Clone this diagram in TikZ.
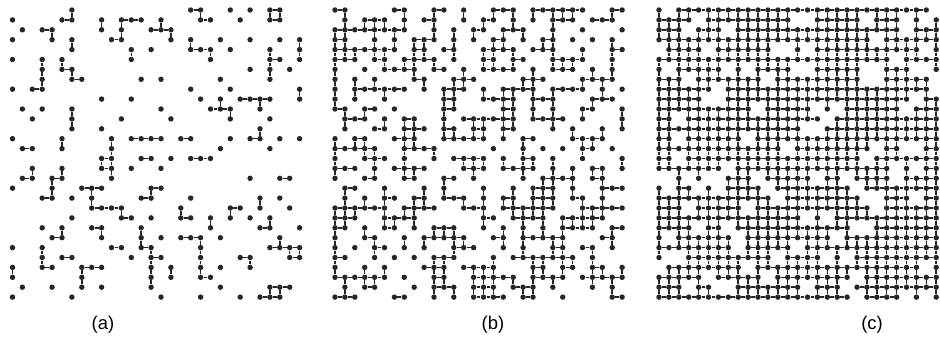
\documentclass[tikz,border=0pt]{standalone}
\usepackage{fontspec}
\setmainfont{Liberation Sans}
\usepackage{tikz}

\tikzset{
  site/.style={circle,fill=black!85,inner sep=0pt,minimum size=3.1pt},
  bond/.style={draw=black!85,line width=0.85pt},
  panellabel/.style={font=\fontsize{10.5}{12}\selectfont}
}

\begin{document}
\begin{tikzpicture}[x=0.2mm,y=-0.2mm]
  \useasboundingbox (0,0) rectangle (940,338);
  \def\dd{9.9}   % lattice spacing
  \pgfmathsetseed{4711}
  % occupy sites at random, one grid per panel
  \foreach \p/\prob/\nc in {a/0.30/30, b/0.59/30, c/0.86/29}{
    \foreach \i in {0,...,30}{
      \foreach \j in {0,...,30}{
        \pgfmathtruncatemacro\o{(rnd<\prob)&&(\i<\nc)&&(\j<30)}
        \expandafter\xdef\csname occ\p-\i-\j\endcsname{\o}
      }
    }
  }
  % sites
  \foreach \p/\xo in {a/12.5, b/335, c/659}{
    \foreach \i in {0,...,29}{
      \foreach \j in {0,...,29}{
        \ifnum\csname occ\p-\i-\j\endcsname=1
          \node[site] (\p-\i-\j) at (\xo+\i*\dd,10+\j*\dd) {};
        \fi
      }
    }
  }
  % bonds between occupied neighbours
  \foreach \p in {a,b,c}{
    \foreach \i [evaluate=\i as \ii using int(\i+1)] in {0,...,29}{
      \foreach \j [evaluate=\j as \jj using int(\j+1)] in {0,...,29}{
        \ifnum\csname occ\p-\i-\j\endcsname=1
          \ifnum\csname occ\p-\ii-\j\endcsname=1 \draw[bond] (\p-\i-\j) -- (\p-\ii-\j); \fi
          \ifnum\csname occ\p-\i-\jj\endcsname=1 \draw[bond] (\p-\i-\j) -- (\p-\i-\jj); \fi
        \fi
      }
    }
  }
  % panel labels
  \node[panellabel] (la) at (103,325) {(a)};
  \node[panellabel] (lb) at (493,325) {(b)};
  \node[panellabel] (lc) at (872,325) {(c)};
\end{tikzpicture}
\end{document}
